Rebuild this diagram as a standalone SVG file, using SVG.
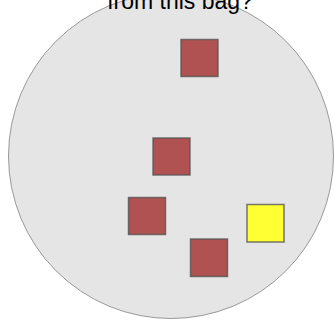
<svg xmlns="http://www.w3.org/2000/svg" width="335" height="320" viewBox="0 0 335 320">
<style>
.bag{fill:#e5e5e5;stroke:#999;stroke-width:1}
.sq{stroke:#555;stroke-opacity:0.8;stroke-width:1.5}
.red{fill:#b05252}
.yel{fill:#ffff33}
.t{font-family:"Liberation Sans",Arial,sans-serif;font-size:23px;fill:#000;text-anchor:middle}
</style>
<rect width="335" height="320" fill="#fff"/>
<circle class="bag" cx="171" cy="156" r="162.5"/>
<text class="t" x="180" y="8.5">from this bag?</text>
<g id="block1"><rect class="sq red" x="181" y="39.5" width="37" height="37"/></g>
<g id="block2"><rect class="sq red" x="153" y="138" width="37" height="37"/></g>
<g id="block3"><rect class="sq red" x="128.5" y="197.5" width="37" height="37"/></g>
<g id="block4"><rect class="sq red" x="190.5" y="239" width="37" height="37.5"/></g>
<g id="block5"><rect class="sq yel" x="247" y="204.5" width="37" height="37.5"/></g>
</svg>
